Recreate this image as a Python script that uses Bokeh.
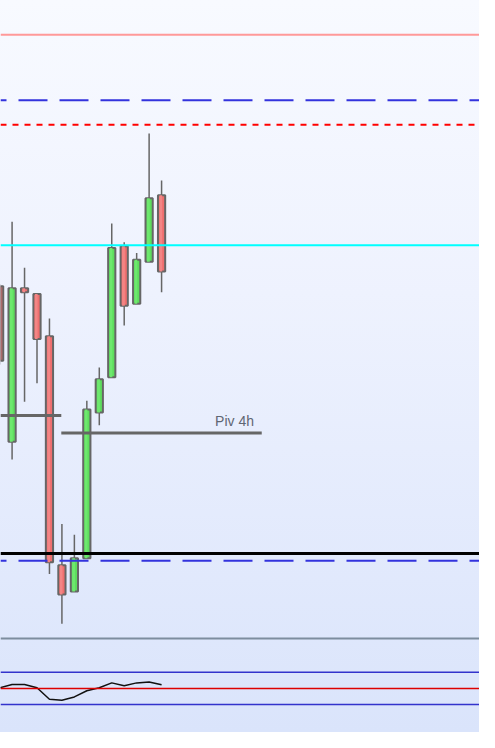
from bokeh.plotting import figure
from bokeh.models import Range1d, Span
from bokeh.core.properties import value
from bokeh.embed import file_html
from bokeh.resources import INLINE

# ---- data ----
idx = list(range(14))
opens  = [1.3273, 1.3114, 1.3271, 1.3265, 1.3222, 1.2988, 1.2961, 1.2995, 1.3144, 1.3180, 1.3314, 1.3255, 1.3298, 1.3366]
closes = [1.3197, 1.3271, 1.3267, 1.3219, 1.2991, 1.2958, 1.2995, 1.3147, 1.3178, 1.3312, 1.3253, 1.3300, 1.3363, 1.3288]
highs  = [1.3275, 1.3339, 1.3292, 1.3265, 1.3240, 1.3030, 1.3019, 1.3156, 1.3190, 1.3337, 1.3318, 1.3307, 1.3429, 1.3381]
lows   = [1.3193, 1.3096, 1.3155, 1.3174, 1.2979, 1.2928, 1.2961, 1.2995, 1.3131, 1.3180, 1.3233, 1.3255, 1.3298, 1.3267]
osc    = [50.8, 54.8, 54.8, 50.8, 36.7, 35.5, 39.5, 47.2, 50.8, 56.9, 53.3, 56.9, 58.1, 54.5]

level_red_top = 1.3530
level_blue_hi = 1.3463
level_red_dot = 1.3438
level_cyan = 1.3315
level_black = 1.3000
level_blue_lo = 1.29925
level_panel = 1.2913
piv_levels = [1.3141, 1.3123]
piv_starts = [0.07, 4.95]
piv_ends = [4.95, 21.04]
piv_label = "Piv 4h"
osc_levels = [70, 50, 30]

W, H = 479, 732
p = figure(width=W, height=H, output_backend="svg", toolbar_location=None,
           x_range=Range1d(0.07, 38.52), y_range=Range1d(1.2817, 1.3565),
           min_border=0, min_border_left=0, min_border_right=0,
           min_border_top=0, min_border_bottom=0)
p.extra_y_ranges = {"osc": Range1d(-4.545, 902.12)}
p.xaxis.visible = False
p.yaxis.visible = False
p.grid.visible = False
p.outline_line_color = None
p.background_fill_alpha = 0
p.border_fill_alpha = 0
p.styles = {"background": "linear-gradient(to bottom, #f8faff 0%, #eef2fe 40%, #dae4fb 100%)"}

up = [c >= o for o, c in zip(opens, closes)]
colors = ["#5ede5e" if u else "#ef6f6f" for u in up]
shine = ["#6ee86e" if u else "#f38585" for u in up]
tops = [max(o, c) for o, c in zip(opens, closes)]
bots = [min(o, c) for o, c in zip(opens, closes)]

p.segment(idx, highs, idx, lows, line_color="#666666", line_width=1.5)
p.vbar(x=idx, top=tops, bottom=bots, width=0.58, fill_color=colors,
       line_color="#666666", line_width=2)
p.vbar(x=[i - 0.06 for i in idx], top=tops, bottom=bots, width=0.22, fill_color=shine,
       line_color=None)

# horizontal levels
p.add_layout(Span(location=level_red_top, dimension="width", line_color="#ff9999", line_width=2))
p.add_layout(Span(location=level_blue_hi, dimension="width", line_color="#3333dd", line_width=2,
                  line_dash="29 12", line_dash_offset=23))
p.add_layout(Span(location=level_red_dot, dimension="width", line_color="#ff0000", line_width=2,
                  line_dash="6 6"))
p.add_layout(Span(location=level_cyan, dimension="width", line_color="#00ffff", line_width=2))
p.add_layout(Span(location=level_black, dimension="width", line_color="#000000", line_width=3))
p.add_layout(Span(location=level_blue_lo, dimension="width", line_color="#3333dd", line_width=2,
                  line_dash="29 12", line_dash_offset=23))
p.add_layout(Span(location=level_panel, dimension="width", line_color="#7d8d9e", line_width=2))

p.segment(piv_starts, piv_levels, piv_ends, piv_levels, line_color="#666666", line_width=3)
p.text(x=[20.42], y=[1.3127], text=[piv_label], text_align="right", text_baseline="bottom",
       text_font=value("Liberation Sans"), text_font_size="14px", text_color="#5f6673")

# oscillator panel
osc_colors = ["#3333cc", "#dd0000", "#3333cc"]
for lv, col in zip(osc_levels, osc_colors):
    p.add_layout(Span(location=lv, dimension="width", line_color=col, line_width=1.5,
                      y_range_name="osc"))
p.line(idx, osc, y_range_name="osc", line_color="#111111", line_width=1.5)

open("out.html", "w").write(file_html(p, INLINE))
